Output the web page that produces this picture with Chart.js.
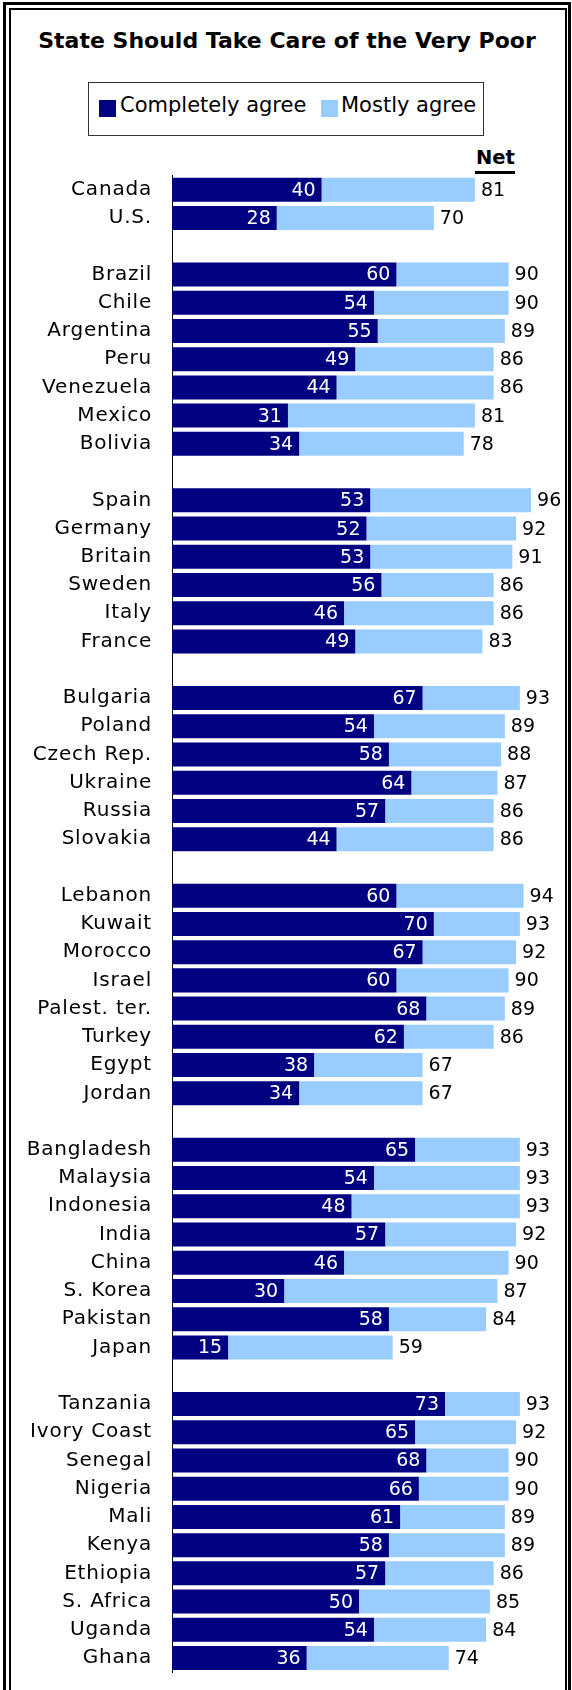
<!DOCTYPE html>
<html>
<head>
<meta charset="utf-8">
<script src="https://cdn.jsdelivr.net/npm/chart.js@4"></script>
<style>
  body { margin: 0; width: 572px; height: 1690px; overflow: hidden; background: #fff; font-family: "DejaVu Sans", sans-serif; }
  .frame { position: absolute; box-sizing: border-box; border: 3px solid #000; left: 3px; top: 2px; width: 568px; height: 1720px; }
  .frame2 { position: absolute; box-sizing: border-box; border: 2px solid #000; left: 9px; top: 8px; width: 558px; height: 1720px; }
  #titulo { position: absolute; left: 0; top: 30px; width: 574px; text-align: center; font-weight: bold; font-size: 22px; line-height: 1; color: #000; }
  #leyenda { position: absolute; left: 88px; top: 82px; width: 396px; height: 54px; box-sizing: border-box; border: 1px solid #333; }
  .caja { position: absolute; width: 17px; height: 17px; top: 100px; }
  .txt { position: absolute; top: 95px; font-size: 21px; line-height: 1; color: #000; white-space: nowrap; }
  #net { position: absolute; left: 476px; top: 148px; font-weight: bold; font-size: 19.5px; line-height: 1; }
  #netLinea { position: absolute; left: 475px; top: 171px; width: 40px; height: 3px; background: #000; }
  canvas { position: absolute; left: 0; top: 0; }
</style>
</head>
<body>
<div class="frame"></div>
<div class="frame2"></div>
<div id="titulo">State Should Take Care of the Very Poor</div>
<div id="leyenda"></div>
<div class="caja" style="left:99px;background:#000080"></div>
<div class="txt" style="left:120px">Completely agree</div>
<div class="caja" style="left:321px;background:#99CCFF"></div>
<div class="txt" style="left:341px">Mostly agree</div>
<div id="net">Net</div>
<div id="netLinea"></div>
<canvas id="grafico" width="572" height="1690"></canvas>
<script>
// Datos (filas vacías separan las regiones)
const paises = ['Canada', 'U.S.', '',
  'Brazil', 'Chile', 'Argentina', 'Peru', 'Venezuela', 'Mexico', 'Bolivia', '',
  'Spain', 'Germany', 'Britain', 'Sweden', 'Italy', 'France', '',
  'Bulgaria', 'Poland', 'Czech Rep.', 'Ukraine', 'Russia', 'Slovakia', '',
  'Lebanon', 'Kuwait', 'Morocco', 'Israel', 'Palest. ter.', 'Turkey', 'Egypt', 'Jordan', '',
  'Bangladesh', 'Malaysia', 'Indonesia', 'India', 'China', 'S. Korea', 'Pakistan', 'Japan', '',
  'Tanzania', 'Ivory Coast', 'Senegal', 'Nigeria', 'Mali', 'Kenya', 'Ethiopia', 'S. Africa', 'Uganda', 'Ghana'];

const completamente = [40, 28, null,
  60, 54, 55, 49, 44, 31, 34, null,
  53, 52, 53, 56, 46, 49, null,
  67, 54, 58, 64, 57, 44, null,
  60, 70, 67, 60, 68, 62, 38, 34, null,
  65, 54, 48, 57, 46, 30, 58, 15, null,
  73, 65, 68, 66, 61, 58, 57, 50, 54, 36];

const mayormente = [41, 42, null,
  30, 36, 34, 37, 42, 50, 44, null,
  43, 40, 38, 30, 40, 34, null,
  26, 35, 30, 23, 29, 42, null,
  34, 23, 25, 30, 21, 24, 29, 33, null,
  28, 39, 45, 35, 44, 57, 26, 44, null,
  20, 27, 22, 24, 28, 31, 29, 35, 30, 38];

const neto = [81, 70, null,
  90, 90, 89, 86, 86, 81, 78, null,
  96, 92, 91, 86, 86, 83, null,
  93, 89, 88, 87, 86, 86, null,
  94, 93, 92, 90, 89, 86, 67, 67, null,
  93, 93, 93, 92, 90, 87, 84, 59, null,
  93, 92, 90, 90, 89, 89, 86, 85, 84, 74];

const fuente = '"DejaVu Sans", sans-serif';

// Un poco de espaciado entre letras para los nombres de países
const espaciado = {
  id: 'espaciado',
  beforeDraw(chart) { chart.ctx.letterSpacing = '0.8px'; },
  afterDraw(chart) { chart.ctx.letterSpacing = '0px'; }
};

// Etiquetas de valores sobre las barras
const etiquetas = {
  id: 'etiquetas',
  afterDatasetsDraw(chart) {
    const ctx = chart.ctx;
    const oscuras = chart.getDatasetMeta(0).data;
    const claras = chart.getDatasetMeta(1).data;
    ctx.save();
    ctx.letterSpacing = '0px';
    ctx.font = '19px ' + fuente;
    ctx.textBaseline = 'middle';
    oscuras.forEach((barra, i) => {
      if (completamente[i] == null) return;
      ctx.fillStyle = '#fff';
      ctx.textAlign = 'right';
      ctx.fillText(completamente[i], barra.x - 6, barra.y + 1);
      ctx.fillStyle = '#000';
      ctx.textAlign = 'left';
      ctx.fillText(neto[i], claras[i].x + 6, claras[i].y + 1);
    });
    ctx.restore();
  }
};

new Chart(document.getElementById('grafico'), {
  type: 'bar',
  data: {
    labels: paises,
    datasets: [
      { label: 'Completely agree', data: completamente, backgroundColor: '#000080' },
      { label: 'Mostly agree', data: mayormente, backgroundColor: '#99CCFF' }
    ]
  },
  options: {
    indexAxis: 'y',
    responsive: false,
    devicePixelRatio: 1,
    animation: false,
    barPercentage: 0.85,
    categoryPercentage: 1,
    layout: { padding: { left: 0, right: 26, top: 175.6, bottom: 17.8 } },
    plugins: { legend: { display: false }, tooltip: { enabled: false } },
    scales: {
      x: { display: false, stacked: true, min: 0, max: 100 },
      y: {
        stacked: true,
        grid: { display: false, drawTicks: false },
        border: { display: true, color: '#000', width: 1 },
        ticks: { color: '#000', padding: 20, autoSkip: false, font: { family: fuente, size: 20 } },
        afterFit: (s) => { s.width = 172; s.paddingTop = 0; s.paddingBottom = 0; }
      }
    }
  },
  plugins: [espaciado, etiquetas]
});
</script>
</body>
</html>
